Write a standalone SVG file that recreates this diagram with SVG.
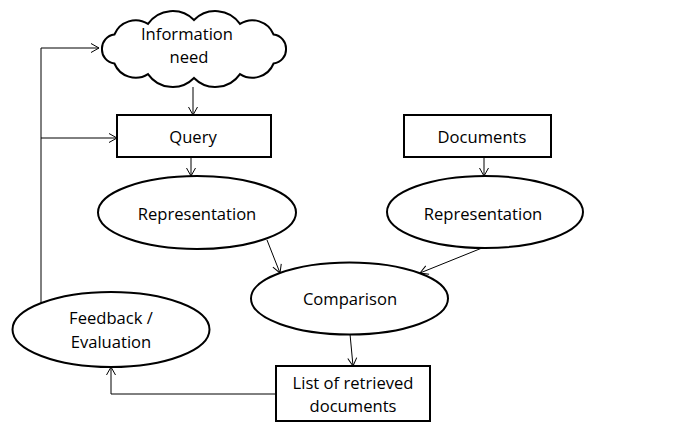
<svg xmlns="http://www.w3.org/2000/svg" width="686" height="436" viewBox="0 0 686 436">
<style>
.shape{fill:#fff;stroke:#000;stroke-width:2}
.conn{fill:none;stroke:#000;stroke-width:1}
text{font-family:"Open Sans","Noto Sans","Liberation Sans",sans-serif;font-size:16.6px;fill:#000;text-anchor:middle}
</style>
<defs>
<marker id="arr" markerWidth="12" markerHeight="12" refX="9" refY="6" orient="auto" markerUnits="userSpaceOnUse">
<polyline points="1,1.5 9,6 1,10.5" fill="none" stroke="#000" stroke-width="1"/>
</marker>
</defs>
<g id="connectors">
<line class="conn" x1="193" y1="87" x2="193" y2="115" marker-end="url(#arr)"/>
<line class="conn" x1="191" y1="157" x2="191" y2="176" marker-end="url(#arr)"/>
<line class="conn" x1="484" y1="157" x2="484" y2="176" marker-end="url(#arr)"/>
<line class="conn" x1="267" y1="240" x2="280" y2="273" marker-end="url(#arr)"/>
<line class="conn" x1="482" y1="248" x2="420" y2="273" marker-end="url(#arr)"/>
<line class="conn" x1="350" y1="334" x2="353" y2="366" marker-end="url(#arr)"/>
<polyline class="conn" points="41,303 41,48 99,48" marker-end="url(#arr)"/>
<line class="conn" x1="41" y1="138" x2="117" y2="138" marker-end="url(#arr)"/>
<polyline class="conn" points="276,394 111,394 111,367" marker-end="url(#arr)"/>
</g>
<g id="info-need">
<path class="shape" d="M286,49 A14,14 0 0 1 273.6,63.5 A23,23 0 0 1 240,74.1 A30,30 0 0 1 194,78 A30,30 0 0 1 148,74.1 A23,23 0 0 1 114.4,63.5 A14,14 0 0 1 102,49 A14,14 0 0 1 114.4,34.5 A23,23 0 0 1 148,23.9 A30,30 0 0 1 194,20 A30,30 0 0 1 240,23.9 A23,23 0 0 1 273.6,34.5 A14,14 0 0 1 286,49 Z"/>
<text x="187" y="40">Information</text>
<text x="189" y="63">need</text>
</g>
<g id="query">
<rect class="shape" x="117" y="115" width="154" height="42"/>
<text x="193" y="143">Query</text>
</g>
<g id="documents">
<rect class="shape" x="404" y="115" width="147" height="42"/>
<text x="482" y="143">Documents</text>
</g>
<g id="rep-query">
<ellipse class="shape" cx="197" cy="212.5" rx="99" ry="36.5"/>
<text x="197" y="220">Representation</text>
</g>
<g id="rep-docs">
<ellipse class="shape" cx="485" cy="212" rx="98" ry="36"/>
<text x="483" y="220">Representation</text>
</g>
<g id="comparison">
<ellipse class="shape" cx="349.5" cy="298.5" rx="98.5" ry="36"/>
<text x="350" y="305">Comparison</text>
</g>
<g id="feedback">
<ellipse class="shape" cx="111" cy="329.5" rx="98.5" ry="37.5"/>
<text x="111" y="324">Feedback /</text>
<text x="111" y="348">Evaluation</text>
</g>
<g id="list">
<rect class="shape" x="276" y="366" width="154" height="55"/>
<text x="353" y="389">List of retrieved</text>
<text x="353" y="412">documents</text>
</g>
</svg>
